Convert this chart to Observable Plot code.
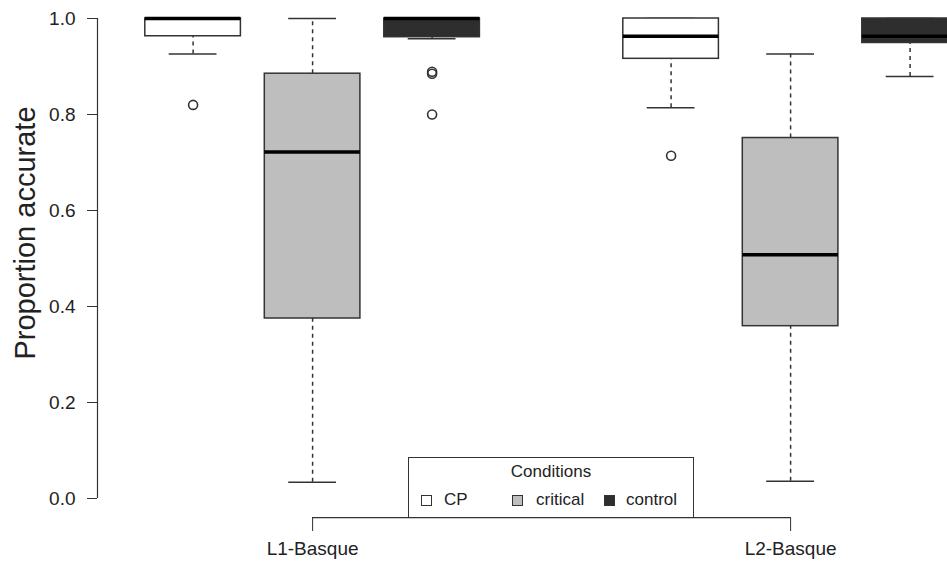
<!DOCTYPE html>
<html>
<head>
<meta charset="utf-8">
<script src="https://cdn.jsdelivr.net/npm/d3@7"></script>
<script src="https://cdn.jsdelivr.net/npm/@observablehq/plot@0.6"></script>
<style>
  html, body { margin: 0; padding: 0; background: white; }
  #wrap { position: relative; width: 947px; height: 562px; overflow: hidden; font-family: "Liberation Sans", Arial, sans-serif; }
  #legend { position: absolute; left: 408px; top: 457px; width: 284px; height: 59px; border: 1.5px solid #333; background: white; color: #222; }
  #legend .title { position: absolute; left: 0; width: 100%; top: 4px; text-align: center; font-size: 17px; }
  #legend .sw { position: absolute; top: 37px; width: 9px; height: 9px; border: 1.2px solid #333; }
  #legend .lab { position: absolute; top: 33px; font-size: 17px; line-height: 17px; }
</style>
</head>
<body>
<div id="wrap"></div>
<script>
// ---- data ----
const groups = ["L1-Basque", "L2-Basque"];
const groupTickPositions = [2, 6];
const conditions = ["CP", "critical", "control"];
const conditionFills = ["white", "#bebebe", "#2e2e2e"];
const legendTitle = "Conditions";
const yLabel = "Proportion accurate";
const yTicks = [0, 0.2, 0.4, 0.6, 0.8, 1.0];

const positions     = [1, 2, 3, 5, 6, 7];
const boxGroup      = ["L1-Basque", "L1-Basque", "L1-Basque", "L2-Basque", "L2-Basque", "L2-Basque"];
const boxCondition  = ["CP", "critical", "control", "CP", "critical", "control"];
const lowerWhisker  = [0.926, 0.034, 0.958, 0.814, 0.036, 0.879];
const lowerHinge    = [0.963, 0.375, 0.961, 0.916, 0.359, 0.949];
const medians       = [1.000, 0.722, 1.000, 0.963, 0.508, 0.963];
const upperHinge    = [1.000, 0.885, 1.000, 1.000, 0.751, 1.000];
const upperWhisker  = [1.000, 1.000, 1.000, 1.000, 0.926, 1.000];

const outlierPosition = [1, 3, 3, 3, 5];
const outlierValue    = [0.820, 0.889, 0.885, 0.800, 0.714];

// ---- build tables ----
const boxes = positions.map((p, i) => ({
  pos: p, group: boxGroup[i], condition: boxCondition[i],
  lw: lowerWhisker[i], q1: lowerHinge[i], med: medians[i], q3: upperHinge[i], uw: upperWhisker[i]
}));
const outliers = outlierPosition.map((p, i) => ({pos: p, value: outlierValue[i]}));

const xMin = 0.2, xMax = 7.8, pxPerUnit = 119.5;
const yAxisLineLow = 0 - 0.04 * (1 - 0); // R's usr lower edge
const ink = "#333";

const chart = Plot.plot({
  width: 947,
  height: 562,
  marginLeft: 97,
  marginRight: 0,
  marginTop: 18,
  marginBottom: 45,
  x: {domain: [xMin, xMax], range: [97, 97 + (xMax - xMin) * pxPerUnit]},
  y: {domain: [0, 1], range: [498, 18]},
  color: {domain: conditions, range: conditionFills},
  style: {fontFamily: "'Liberation Sans', Arial, sans-serif", color: "#222", background: "white", overflow: "hidden"},
  marks: [
    // whiskers
    Plot.ruleX(boxes, {x: "pos", y1: "q3", y2: "uw", stroke: ink, strokeWidth: 1.5, strokeDasharray: "4,4"}),
    Plot.ruleX(boxes, {x: "pos", y1: "lw", y2: "q1", stroke: ink, strokeWidth: 1.5, strokeDasharray: "4,4"}),
    // staples
    Plot.ruleY(boxes, {y: "uw", x1: d => d.pos - 0.2, x2: d => d.pos + 0.2, stroke: ink, strokeWidth: 1.5}),
    Plot.ruleY(boxes, {y: "lw", x1: d => d.pos - 0.2, x2: d => d.pos + 0.2, stroke: ink, strokeWidth: 1.5}),
    // boxes
    Plot.rect(boxes, {x1: d => d.pos - 0.4, x2: d => d.pos + 0.4, y1: "q1", y2: "q3", fill: "condition", stroke: ink, strokeWidth: 1.5}),
    // medians
    Plot.ruleY(boxes, {y: "med", x1: d => d.pos - 0.4, x2: d => d.pos + 0.4, stroke: "black", strokeWidth: 3.5}),
    // outliers
    Plot.dot(outliers, {x: "pos", y: "value", r: 4.5, stroke: ink, strokeWidth: 1.6, fill: "none"}),
    // y axis
    Plot.ruleX([xMin], {y1: 0, y2: 1, stroke: ink, strokeWidth: 1.2}),
    Plot.axisY({ticks: yTicks, tickFormat: d3.format(".1f"), tickSize: 10, tickPadding: 12, fontSize: 19, label: null, stroke: ink}),
    // x axis bracket
    Plot.ruleY([yAxisLineLow], {x1: groupTickPositions[0], x2: groupTickPositions[groupTickPositions.length - 1], stroke: ink, strokeWidth: 1.2}),
    Plot.axisX({ticks: groupTickPositions, tickFormat: (d, i) => groups[i], tickSize: 14, tickPadding: 10, fontSize: 19, label: null, stroke: ink}),
    // y label
    Plot.text([yLabel], {frameAnchor: "left", textAnchor: "middle", rotate: -90, dx: -72, dy: -35, fontSize: 29, fill: "#222"})
  ]
});

const wrap = document.getElementById("wrap");
wrap.appendChild(chart);

// legend
const legend = document.createElement("div");
legend.id = "legend";
const title = document.createElement("div");
title.className = "title";
title.textContent = legendTitle;
legend.appendChild(title);
const swX = [12, 103, 195];
const labX = [35, 127, 217];
conditions.forEach((c, i) => {
  const sw = document.createElement("div");
  sw.className = "sw";
  sw.style.left = swX[i] + "px";
  sw.style.background = chart.scale("color").apply(c);
  legend.appendChild(sw);
  const lab = document.createElement("div");
  lab.className = "lab";
  lab.style.left = labX[i] + "px";
  lab.textContent = c;
  legend.appendChild(lab);
});
wrap.appendChild(legend);
</script>
</body>
</html>
